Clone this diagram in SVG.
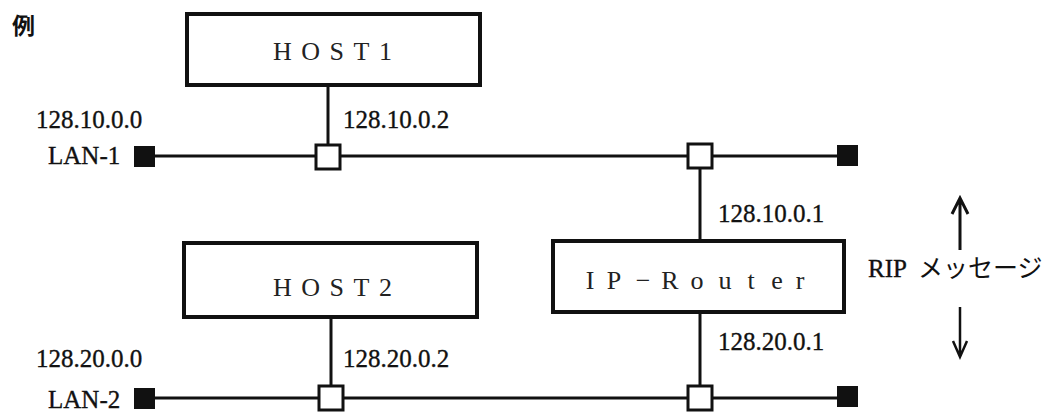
<svg xmlns="http://www.w3.org/2000/svg" width="1049" height="412" viewBox="0 0 1049 412">
<style>
  .box { fill: #fff; stroke: #111; stroke-width: 4; }
  .wire { stroke: #111; stroke-width: 3; fill: none; }
  .term { fill: #111; }
  .port { fill: #fff; stroke: #111; stroke-width: 3; }
  .lbl { font-family: "Liberation Serif", "Times New Roman", serif; font-size: 25px; fill: #111; stroke: #111; stroke-width: 0.35; }
  .name { font-family: "Liberation Serif", "Times New Roman", serif; font-size: 26px; fill: #222; }
  .jp { font-family: "Noto Sans CJK JP", sans-serif; fill: #111; }
  .arrow { stroke: #111; fill: none; stroke-linecap: butt; stroke-linejoin: miter; }
</style>
<rect width="1049" height="412" fill="#fff"/>

<g id="connectors">
  <line class="wire" x1="145" y1="156" x2="848" y2="156"/>
  <line class="wire" x1="145" y1="398" x2="848" y2="398"/>
  <line class="wire" x1="328" y1="85" x2="328" y2="146"/>
  <line class="wire" x1="700" y1="168" x2="700" y2="241"/>
  <line class="wire" x1="700" y1="312" x2="700" y2="386"/>
  <line class="wire" x1="331" y1="317" x2="331" y2="386"/>
</g>

<g id="host1">
  <rect class="box" x="187" y="14" width="293" height="71"/>
  <text class="name" x="273" y="60" letter-spacing="9.5">HOST1</text>
</g>

<g id="host2">
  <rect class="box" x="184" y="243" width="293" height="74"/>
  <text class="name" x="273" y="296" letter-spacing="9.5">HOST2</text>
</g>

<g id="router">
  <rect class="box" x="553" y="241" width="291" height="71"/>
  <text class="name" text-anchor="middle" y="289" x="590 614 643 670 697 725 751 777 800">IP−Router</text>
</g>

<g id="lan1">
  <rect class="term" x="134" y="146" width="21" height="21"/>
  <rect class="term" x="837" y="145" width="21" height="21"/>
  <rect class="port" x="316" y="145" width="24" height="24"/>
  <rect class="port" x="688" y="144" width="24" height="24"/>
  <text class="lbl" x="36" y="128">128.10.0.0</text>
  <text class="lbl" x="48" y="164">LAN-1</text>
  <text class="lbl" x="343" y="128">128.10.0.2</text>
  <text class="lbl" x="718" y="222">128.10.0.1</text>
</g>

<g id="lan2">
  <rect class="term" x="134" y="388" width="21" height="21"/>
  <rect class="term" x="837" y="386" width="21" height="21"/>
  <rect class="port" x="319" y="386" width="24" height="24"/>
  <rect class="port" x="688" y="386" width="24" height="24"/>
  <text class="lbl" x="36" y="367">128.20.0.0</text>
  <text class="lbl" x="48" y="408">LAN-2</text>
  <text class="lbl" x="343" y="367">128.20.0.2</text>
  <text class="lbl" x="718" y="350">128.20.0.1</text>
</g>

<g id="rip">
  <path class="arrow" stroke-width="3" d="M960 250 V199 M952 214 L960 198 L968 214"/>
  <path class="arrow" stroke-width="2.5" d="M960 307 V355 M953 341 L960 357 L967 341"/>
  <text x="868" y="277"><tspan class="lbl">RIP</tspan><tspan class="jp" font-size="25" x="918">メッセージ</tspan></text>
</g>

<text class="jp" x="12" y="34" font-size="23" font-weight="bold">例</text>
</svg>
